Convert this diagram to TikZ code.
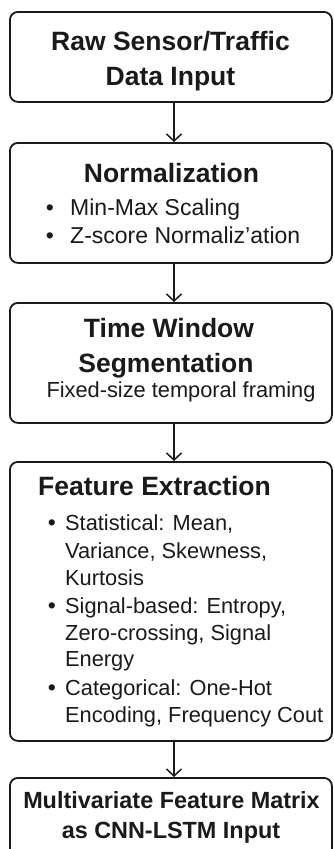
\documentclass[tikz,border=0pt]{standalone}
\usepackage{fontspec}
\setmainfont{Liberation Sans}
\usetikzlibrary{arrows.meta}
\definecolor{ink}{HTML}{1A1A1A}
\begin{document}
\begin{tikzpicture}[x=1pt,y=-1pt,
  box/.style={draw=ink, line width=1.8pt, rounded corners=8pt, inner sep=0pt,
    anchor=north west, minimum width=322pt},
  head/.style={font={\fontsize{26.5}{30}\selectfont\bfseries}, text=ink, inner sep=0pt, anchor=base},
  headl/.style={head, anchor=base west},
  body/.style={font={\fontsize{23}{27}\selectfont}, text=ink, inner sep=0pt, anchor=base west},
  small/.style={body, font={\fontsize{21.8}{26}\selectfont}},
  bodyc/.style={small, anchor=base},
  dot/.style={body, anchor=base},
  last/.style={font={\fontsize{23.4}{27}\selectfont\bfseries}, text=ink, inner sep=0pt, anchor=base},
  arr/.style={draw=ink, line width=1.5pt, -{Straight Barb[length=7pt,width=15pt,line width=1.5pt]}}]
\useasboundingbox (0,0) rectangle (333,849);
\fill[white] (0,0) rectangle (333,849);
\clip (0,0) rectangle (333,849);
\coordinate (axis) at (174,0);

% stage boxes
\node[box, minimum height=90pt]  (raw)  at (9,11)  {};
\node[box, minimum height=120pt] (norm) at (9,142) {};
\node[box, minimum height=120pt] (win)  at (9,302) {};
\node[box, minimum height=279pt] (feat) at (9,461) {};
\node[box, minimum height=95pt]  (out)  at (9,777) {};

% raw input
\node[head] (rawA) at (170.5,50) {Raw Sensor/Traffic};
\node[head] (rawB) at (170.5,85) {Data Input};

% normalization
\node[head] (normT) at (171.5,182) {Normalization};
\node[dot]  (normD1) at (50,215) {•};
\node[body] (normA)  at (70,215) {Min-Max Scaling};
\node[dot]  (normD2) at (50,243) {•};
\node[body] (normB)  at (70,243) {Z-score Normaliz’ation};

% windowing
\node[head]  (winA) at (169,337) {Time Window};
\node[head]  (winB) at (166,372) {Segmentation};
\node[bodyc] (winC) at (181,397) {Fixed-size temporal framing};

% feature extraction
\node[headl] (featT) at (38,495) {Feature Extraction};
\node[dot]   (featD1) at (52,530) {•};
\node[small] (featA1) at (65,530) {Statistical: Mean,};
\node[small] (featA2) at (65,558) {Variance, Skewness,};
\node[small] (featA3) at (65,585) {Kurtosis};
\node[dot]   (featD2) at (52,613) {•};
\node[small] (featB1) at (65,613) {Signal-based: Entropy,};
\node[small] (featB2) at (65,640) {Zero-crossing, Signal};
\node[small] (featB3) at (65,666) {Energy};
\node[dot]   (featD3) at (52,695) {•};
\node[small] (featC1) at (65,695) {Categorical: One-Hot};
\node[small] (featC2) at (65,722) {Encoding, Frequency Cout};

% model input
\node[last] (outA) at (171.5,808) {Multivariate Feature Matrix};
\node[last] (outB) at (171,838) {as CNN-LSTM Input};

% connectors
\draw[arr] (raw.south -| axis)  -- (norm.north -| axis);
\draw[arr] (norm.south -| axis) -- (win.north -| axis);
\draw[arr] (win.south -| axis)  -- (feat.north -| axis);
\draw[arr] (feat.south -| axis) -- (out.north -| axis);
\end{tikzpicture}
\end{document}
